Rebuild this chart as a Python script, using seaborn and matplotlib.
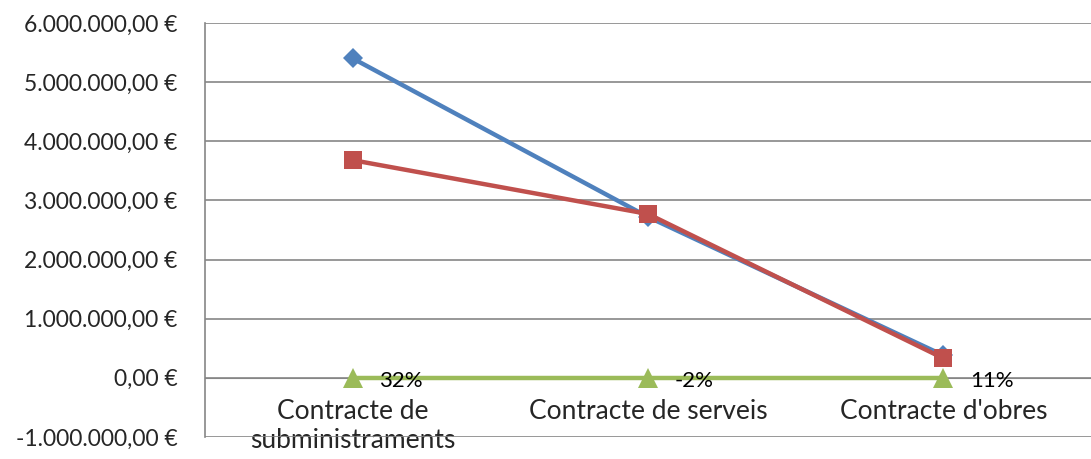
import matplotlib
matplotlib.use("Agg")
import matplotlib.pyplot as plt
import seaborn as sns
import pandas as pd

# dades llegides del gràfic
categories = ["Contracte de\nsubministraments", "Contracte de serveis", "Contracte d'obres"]
serie_a = [5400000, 2720000, 380000]
serie_b = [3680000, 2770000, 330000]
variacio = [0.32, -0.02, 0.11]
etiquetes_var = ["32%", "-2%", "11%"]
y_ticks = [-1000000, 0, 1000000, 2000000, 3000000, 4000000, 5000000, 6000000]

sns.set_style("white")
plt.rcParams['font.family'] = ['Lato', 'DejaVu Sans']

df = pd.DataFrame({
    "cat": list(range(3)) * 3,
    "valor": serie_a + serie_b + variacio,
    "serie": ["A"] * 3 + ["B"] * 3 + ["Var"] * 3,
})

fig = plt.figure(figsize=(10.91, 4.59), dpi=100)
ax = fig.add_axes([0.188, 0.048, 0.812, 0.902])

colors = {"A": "#4F81BD", "B": "#C0504D", "Var": "#9BBB59"}
markers = {"A": "D", "B": "s", "Var": "^"}
sizes = {"A": 10, "B": 13, "Var": 14}

for s in ["A", "B", "Var"]:
    sub = df[df["serie"] == s]
    sns.lineplot(data=sub, x="cat", y="valor", ax=ax, color=colors[s],
                 marker=markers[s], markersize=sizes[s], markeredgewidth=0,
                 linewidth=3.2, legend=False, zorder=3)

for i, lab in enumerate(etiquetes_var):
    ax.annotate(lab, (i, variacio[i]), xytext=(19, -2), textcoords="offset points",
                ha="left", va="center", fontsize=16, color="black", zorder=4)

ax.spines['bottom'].set_position(('data', 0))
ax.set_xlim(-0.5, 2.5)
ax.set_ylim(-1000000, 6000000)
ax.set_yticks(y_ticks)
ax.set_yticklabels([f"{v:,.2f}".replace(",", "X").replace(".", ",").replace("X", ".") + " €"
                    for v in y_ticks])
ax.yaxis.grid(True, color="#868686", linewidth=1.2)
ax.set_axisbelow(True)

ax.set_xticks(range(3))
ax.set_xticklabels(categories, linespacing=1.2)
ax.spines['bottom'].set_color("#868686")
ax.tick_params(axis='x', length=0, pad=15, labelsize=19)
ax.tick_params(axis='y', length=0, pad=20, labelsize=16.5)
ax.spines['left'].set_color("#868686")
ax.spines['left'].set_linewidth(1.2)
for sp in ['top', 'right']:
    ax.spines[sp].set_visible(False)
ax.set_xlabel("")
ax.set_ylabel("")

fig.savefig("out.png", dpi=100)
